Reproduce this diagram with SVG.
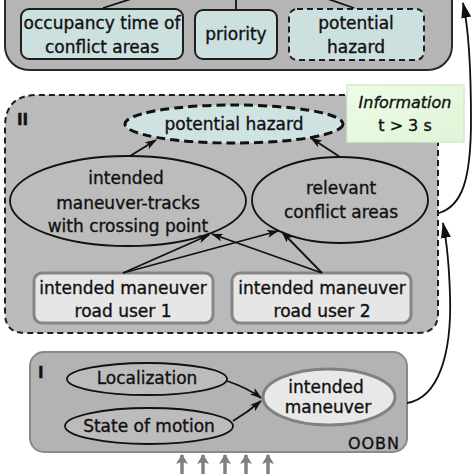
<svg xmlns="http://www.w3.org/2000/svg" width="474" height="474" viewBox="0 0 474 474">
<defs>
<style>
text{font-family:"DejaVu Sans","Verdana",sans-serif;font-size:17px;fill:#111;stroke:#111;stroke-width:0.35;text-anchor:middle}
.lbl{font-weight:bold;font-size:15px;text-anchor:start}
.cont3{fill:#b5b5b5;stroke:#2a2a2a;stroke-width:2}
.cont2{fill:#bababa;stroke:#1e1e1e;stroke-width:2;stroke-dasharray:6 4}
.cont1{fill:#b3b3b3;stroke:#8a8a8a;stroke-width:2}
.tbox{fill:#cde0e0;stroke:#1e1e1e;stroke-width:2}
.dash{stroke-dasharray:6 4}
.ell{fill:#bcbcbc;stroke:#111;stroke-width:1.8}
.ubox{fill:#e6e6e6;stroke:#858585;stroke-width:3}
.con{fill:none;stroke:#111;stroke-width:1.8}
.gar{stroke:#808080;stroke-width:3.5}
</style>
<marker id="ah" viewBox="0 0 12 8" refX="11" refY="4" markerWidth="12" markerHeight="8" markerUnits="userSpaceOnUse" orient="auto">
<path d="M0,0 L12,4 L0,8 L3,4 z" fill="#111"/>
</marker>
<marker id="ahb" viewBox="0 0 16 10" refX="15" refY="5" markerWidth="16" markerHeight="10" markerUnits="userSpaceOnUse" orient="auto">
<path d="M0,0 L16,5 L0,10 z" fill="#111"/>
</marker>
<marker id="ag" viewBox="0 0 10 12" refX="9" refY="6" markerWidth="10" markerHeight="12" markerUnits="userSpaceOnUse" orient="auto">
<path d="M0,0 L10,6 L0,12 L2,6 z" fill="#808080"/>
</marker>
<linearGradient id="infog" x1="0" y1="0" x2="1" y2="1">
<stop offset="0" stop-color="#eefbe8"/>
<stop offset="1" stop-color="#dff5d6"/>
</linearGradient>
</defs>
<rect width="474" height="474" fill="#fff"/>

<g id="container-III">
<rect class="cont3" x="5" y="-40" width="447" height="110" rx="24"/>
</g>
<g id="node-occupancy">
<rect class="tbox" x="21" y="9" width="162" height="50" rx="8"/>
<text x="102" y="29">occupancy time of</text>
<text x="102" y="53">conflict areas</text>
</g>
<g id="node-priority">
<rect class="tbox" x="195" y="10" width="82" height="49" rx="8"/>
<text x="236" y="40">priority</text>
</g>
<g id="node-hazard-top">
<rect class="tbox dash" x="289" y="9" width="135" height="51" rx="8"/>
<text x="356" y="29">potential</text>
<text x="356" y="53">hazard</text>
</g>

<g id="container-II">
<path class="cont2" d="M438,120 L438,313 Q438,333 418,333 L25,333 Q5,333 5,313 L5,127 Q5,95 37,95 L420,95 Q438,95 438,113 Z"/>
<text class="lbl" x="17" y="125">II</text>
</g>
<g id="info">
<rect x="347" y="85" width="117" height="57" fill="url(#infog)" stroke="#d3eccb" stroke-width="1.5"/>
<text x="405" y="108" style="font-style:italic;font-size:16px">Information</text>
<text x="405" y="131" style="font-size:16px">t &gt; 3 s</text>
</g>
<g id="node-hazard">
<ellipse cx="234" cy="124" rx="109" ry="19" fill="#cfe3e3" stroke="#111" stroke-width="3" stroke-dasharray="9 5"/>
<text x="234" y="130">potential hazard</text>
</g>
<g id="node-tracks">
<ellipse class="ell" cx="128" cy="201" rx="118" ry="45"/>
<text x="126" y="184">intended</text>
<text x="128" y="209">maneuver-tracks</text>
<text x="128" y="232">with crossing point</text>
</g>
<g id="node-relevant">
<ellipse class="ell" cx="340" cy="200" rx="88" ry="43"/>
<text x="341" y="194">relevant</text>
<text x="341" y="218">conflict areas</text>
</g>
<g id="node-user1">
<rect class="ubox" x="34" y="273" width="179" height="50" rx="8"/>
<text x="123" y="294">intended maneuver</text>
<text x="123" y="317">road user 1</text>
</g>
<g id="node-user2">
<rect class="ubox" x="232" y="273" width="179" height="50" rx="8"/>
<text x="322" y="294">intended maneuver</text>
<text x="322" y="317">road user 2</text>
</g>

<g id="container-I">
<rect class="cont1" x="30" y="352" width="377" height="100" rx="14"/>
<text class="lbl" x="38" y="378">I</text>
<text x="374" y="449" style="font-size:16px;letter-spacing:1px">OOBN</text>
</g>
<g id="node-localization">
<ellipse class="ell" cx="147" cy="379" rx="80" ry="16"/>
<text x="147" y="384">Localization</text>
</g>
<g id="node-motion">
<ellipse class="ell" cx="149" cy="426" rx="84" ry="18"/>
<text x="149" y="432">State of motion</text>
</g>
<g id="node-intended">
<ellipse cx="329" cy="397" rx="66" ry="28" fill="#e8e8e8" stroke="#808080" stroke-width="3"/>
<text x="326" y="393">intended</text>
<text x="328" y="413">maneuver</text>
</g>

<g id="connectors">
<path class="con" d="M103,8 L131,-1"/>
<path class="con" d="M236,10 L236,-1"/>
<path class="con" d="M354,8 L328,-1"/>
<path class="con" d="M130,156 L156,140" marker-end="url(#ah)"/>
<path class="con" d="M340,157 L311,138" marker-end="url(#ah)"/>
<path class="con" d="M123,273 L209,235" marker-end="url(#ah)"/>
<path class="con" d="M123,273 L278,231" marker-end="url(#ah)"/>
<path class="con" d="M322,273 L212,234" marker-end="url(#ah)"/>
<path class="con" d="M322,273 L282,232" marker-end="url(#ah)"/>
<path class="con" d="M227,381 Q248,388 261,398" marker-end="url(#ah)"/>
<path class="con" d="M233,421 Q248,412 261,401" marker-end="url(#ah)"/>
<path class="con" d="M407,403 C438,398 452,355 450,295 C449,262 447,243 443,223" marker-end="url(#ahb)"/>
<path class="con" d="M439,213 C462,206 471,180 471,120 C471,70 469,30 463,3" marker-end="url(#ahb)"/>
<line class="gar" x1="182" y1="474" x2="182" y2="455" marker-end="url(#ag)"/>
<line class="gar" x1="203" y1="474" x2="203" y2="455" marker-end="url(#ag)"/>
<line class="gar" x1="225" y1="474" x2="225" y2="455" marker-end="url(#ag)"/>
<line class="gar" x1="246" y1="474" x2="246" y2="455" marker-end="url(#ag)"/>
<line class="gar" x1="268" y1="474" x2="268" y2="455" marker-end="url(#ag)"/>
</g>
</svg>
